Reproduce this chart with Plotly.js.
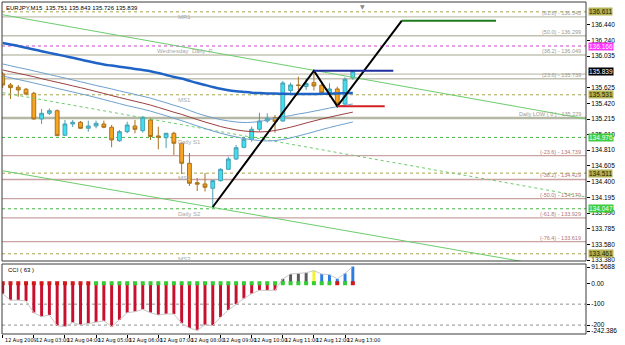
<!DOCTYPE html>
<html><head><meta charset="utf-8">
<script src="https://cdn.plot.ly/plotly-3.0.1.min.js"></script>
<style>html,body{margin:0;padding:0;background:#fff;}#chart{width:625px;height:345px;}</style>
</head><body><div id="chart"></div>
<script>
// ---------- DATA ----------
const symbolTitle = "EURJPY,M15";
const open  = [135.802,135.659,135.629,135.603,135.551,135.216,135.290,135.324,135.004,135.151,135.173,135.095,135.125,135.151,135.108,134.933,135.051,135.125,135.064,135.203,134.995,134.972,135.030,134.900,134.639,134.387,134.370,134.314,134.413,134.561,134.695,134.847,134.952,135.082,135.190,135.233,135.190,135.587,135.659,135.639,135.689,135.655,135.555,135.607,135.411,135.751];
const high  = [135.828,135.685,135.659,135.620,135.568,135.346,135.353,135.340,135.203,135.203,135.190,135.194,135.194,135.194,135.138,135.073,135.181,135.203,135.255,135.225,135.116,135.034,135.051,134.904,134.773,134.448,134.513,134.415,134.574,134.725,134.877,134.986,135.116,135.298,135.290,135.268,135.711,135.689,135.767,135.746,135.845,135.702,135.681,135.637,135.759,135.843];
const low   = [135.620,135.476,135.506,135.528,135.209,135.151,135.268,134.995,134.995,135.112,135.086,135.051,135.095,135.095,134.848,134.920,135.030,135.030,135.038,134.943,134.821,134.838,134.747,134.500,134.344,134.278,134.272,134.070,134.400,134.552,134.682,134.834,134.920,135.051,135.168,135.038,135.181,135.551,135.594,135.594,135.587,135.528,135.499,135.381,135.398,135.726];
const close = [135.659,135.624,135.594,135.541,135.216,135.290,135.324,134.999,135.151,135.173,135.095,135.125,135.160,135.108,134.943,135.051,135.138,135.082,135.238,134.988,134.978,135.030,134.900,134.639,134.379,134.367,134.327,134.413,134.561,134.695,134.842,134.952,135.082,135.190,135.225,135.181,135.685,135.659,135.652,135.678,135.646,135.555,135.607,135.414,135.733,135.839];

const maSlow = [136.206,136.186,136.167,136.143,136.121,136.099,136.077,136.056,136.034,136.012,135.990,135.967,135.945,135.926,135.911,135.897,135.883,135.868,135.854,135.838,135.815,135.789,135.763,135.743,135.713,135.684,135.659,135.633,135.609,135.591,135.578,135.568,135.559,135.553,135.549,135.547,135.544,135.542,135.542,135.542,135.542,135.543,135.546,135.548,135.551,135.555];
const envUpper = [135.932,135.909,135.886,135.866,135.842,135.819,135.795,135.772,135.749,135.724,135.701,135.677,135.652,135.630,135.607,135.582,135.559,135.535,135.512,135.487,135.457,135.427,135.395,135.365,135.327,135.290,135.259,135.232,135.208,135.190,135.177,135.170,135.173,135.183,135.203,135.224,135.244,135.260,135.281,135.297,135.317,135.337,135.358,135.377,135.395,135.411];
const envMid = [135.854,135.831,135.810,135.789,135.766,135.741,135.717,135.694,135.671,135.647,135.624,135.599,135.574,135.548,135.521,135.496,135.471,135.447,135.423,135.397,135.367,135.336,135.304,135.276,135.242,135.208,135.177,135.147,135.118,135.094,135.074,135.060,135.051,135.047,135.052,135.066,135.086,135.109,135.135,135.164,135.190,135.216,135.239,135.262,135.284,135.305];
const envLower = [135.776,135.753,135.730,135.708,135.685,135.661,135.638,135.614,135.591,135.568,135.544,135.521,135.495,135.469,135.442,135.416,135.390,135.367,135.344,135.318,135.288,135.258,135.225,135.194,135.160,135.125,135.092,135.060,135.031,135.005,134.982,134.962,134.946,134.935,134.930,134.935,134.949,134.969,134.995,135.021,135.049,135.078,135.104,135.130,135.153,135.177];

const cci = [-50,-81,-81,-85,-141,-160,-152,-203,-207,-188,-199,-194,-186,-180,-207,-175,-141,-136,-125,-141,-152,-147,-147,-191,-214,-225,-199,-202,-162,-128,-100,-73,-50,-34,-34,-34,21,44,47,50,60,44,41,21,47,80];
const cciBarState = ["d","d","d","d","d","d","d","d","d","d","d","d","d","d","d","d","d","d","d","d","d","d","d","d","d","d","d","d","d","d","d","d","d","d","d","d","n","n","n","n","y","u","u","u","u","u"];
const cciDotState = ["r","r","r","r","r","r","r","r","r","r","r","r","g","g","g","g","g","g","g","g","g","g","g","g","g","g","g","g","g","g","g","g","g","g","g","g","g","g","g","g","g","g","g","r","g","r"];
const cciLevels = [-100,-200];
const cciMax = 91.5688, cciMin = -242.386;
const cciTickText = ["91.5688","0.00","-100","-200","-242.386"];

const timeLabelBars = [0,4,8,12,16,20,24,28,32,36,40,44];
const timeLabels = ["12 Aug 2009","12 Aug 03:00","12 Aug 04:00","12 Aug 05:00","12 Aug 06:00","12 Aug 07:00","12 Aug 08:00","12 Aug 09:00","12 Aug 10:00","12 Aug 11:00","12 Aug 12:00","12 Aug 13:00"];

const priceTicks = [136.440,136.240,136.035,135.625,135.420,135.215,135.010,134.810,134.605,134.400,134.195,133.990,133.785,133.580,133.380];

const fibLevels = [136.545,136.299,136.049,135.739,135.229,134.739,134.429,134.179,133.929,133.619];
const fibNames = ["(61.8)","(50.0)","(38.2)","(23.6)","Daily LOW ( 0 )","(-23.6)","(-38.2)","(-50.0)","(-61.8)","(-76.4)"];
const otherLevels = [135.800];

const pivotLevels = [136.611,136.166,135.531,134.976,134.511,134.047,133.461];
const pivotNames = ["MR1","Wednesday  Daily  P","MS1","Daily S1","MS2","Daily S2","MS3"];
const pivotKinds = ["mid","pivot","mid","daily","mid","daily","mid"];

const trendUpperX = [0,75], trendUpperY = [136.573,135.216];
const trendMidX = [0,75],   trendMidY = [135.558,134.200];
const trendLowX = [0,75],   trendLowY = [134.542,133.215];

const zigzagX = [27,40,43,51.3];
const zigzagY = [134.070,135.845,135.381,136.496];
const highSegX = [40,50.2],  highSegY = [135.845,135.845];
const lowSegX = [43,49.1],   lowSegY = [135.381,135.381];
const targetSegX = [51.3,63.4], targetSegY = [136.496,136.496];
const shiftMarkerBar = 46.3;

// ---------- BUILD ----------
const bars = open.map((_, i) => i);
const FONT = "Liberation Sans, Arial, sans-serif";
const NARROW = "Liberation Sans Narrow, Arial Narrow, DejaVu Sans Condensed, Liberation Sans, sans-serif";
const mainDom = [(334-261)/332, 1];
const cciDom = [0, (334-264)/332];
const cciRange = [-242.6, 91.8];
// MT4 draws the extreme scale labels a few pixels inside the panel edge
const cciSpan = cciRange[1] - cciRange[0];
const cciTicks = [cciRange[1] - cciSpan*3/70, 0, -100, -200, cciRange[0] + cciSpan*3/70];

const pivotColor = {mid:"#a6a64a", pivot:"#cc44cc", daily:"#46b946"};
const pivotBg = {mid:"#b3b356", pivot:"#ff33ff", daily:"#3dcc3d"};
const pivotFg = {mid:"#202000", pivot:"#ffffff", daily:"#ffffff"};
const barColor = {d:"#c8102e", n:"#5a5a5a", y:"#f2f230", u:"#2a7de1"};
const dotColor = {r:"#d01818", g:"#33cc33"};

const traces = [];
function line(x, y, color, width, dash, yaxis, shape) {
  traces.push({type:"scatter", mode:"lines", x:x, y:y, xaxis:"x", yaxis:yaxis||"y",
    line:{color:color, width:width, dash:dash||"solid", shape:shape||"linear"}, hoverinfo:"skip", showlegend:false});
}
line(trendUpperX, trendUpperY, "#6ccc6c", 1);
line(trendMidX, trendMidY, "#6ccc6c", 1, "dot");
line(trendLowX, trendLowY, "#6ccc6c", 1);
line(bars, envUpper, "#6d9fcf", 1, "solid", "y", "spline");
line(bars, envMid, "#9a3f3f", 1, "solid", "y", "spline");
line(bars, envLower, "#6d9fcf", 1, "solid", "y", "spline");
line(bars, maSlow, "#1f63c6", 2.5, "solid", "y", "spline");

traces.push({type:"candlestick", x:bars, open:open, high:high, low:low, close:close,
  xaxis:"x", yaxis:"y",
  increasing:{line:{color:"#4a9fb0", width:1}, fillcolor:"#3fdff2"},
  decreasing:{line:{color:"#a8721e", width:1}, fillcolor:"#f7a420"},
  hoverinfo:"skip", showlegend:false});

line(zigzagX, zigzagY, "#000000", 2);
line(highSegX, highSegY, "#1c2c9c", 2);
line(lowSegX, lowSegY, "#d42020", 2);
line(targetSegX, targetSegY, "#1f7a1f", 2);

// CCI
traces.push({type:"bar", x:bars, y:cci, base:0, width:0.38, xaxis:"x", yaxis:"y2",
  marker:{color:cciBarState.map(s => barColor[s]), line:{width:0}}, hoverinfo:"skip", showlegend:false});
line(bars, cci, "#c8c8c8", 1, "solid", "y2");
traces.push({type:"scatter", mode:"markers", x:bars, y:bars.map(() => 0), xaxis:"x", yaxis:"y2",
  marker:{symbol:"square", size:4, color:cciDotState.map(s => dotColor[s])}, hoverinfo:"skip", showlegend:false});

const shapes = [];
const annotations = [];
const fmt = v => v.toFixed(3);

fibLevels.forEach((v, i) => {
  const neg = fibNames[i].indexOf("-") >= 0;
  const zero = fibNames[i].indexOf("( 0 )") >= 0;
  shapes.push({type:"line", xref:"paper", x0:0, x1:1, yref:"y", y0:v, y1:v, layer:"below",
    line:{color: zero ? "#b4b8a4" : (neg ? "#c9a2a2" : "#c2c2b2"), width: zero ? 2.5 : 1.4}});
  annotations.push({xref:"paper", x:(583-2)/584, xanchor:"right", yref:"y", y:v, yanchor:"bottom", yshift:-1,
    text: fibNames[i] + " - " + fmt(v), showarrow:false,
    font:{family:FONT, size:5.5, color: neg ? "#b07878" : "#9a9a90"}});
});
otherLevels.forEach(v => {
  shapes.push({type:"line", xref:"paper", x0:0, x1:1, yref:"y", y0:v, y1:v, layer:"below",
    line:{color:"#c2c2b2", width:1.2}});
});
pivotLevels.forEach((v, i) => {
  const k = pivotKinds[i];
  shapes.push({type:"line", xref:"paper", x0:0, x1:1, yref:"y", y0:v, y1:v, layer:"below",
    line:{color:pivotColor[k], width:1, dash:"dot"}});
  annotations.push({xref:"x", x: k === "pivot" ? 19.6 : 22.3, xanchor:"left", yref:"y", y:v, yanchor:"top", yshift:0,
    text:pivotNames[i], showarrow:false, font:{family:FONT, size:6, color:"#a8a8a8"}});
  annotations.push({xref:"paper", x:1, xanchor:"left", xshift:2, yref:"y", y:v, yanchor:"middle",
    text:fmt(v), showarrow:false, bgcolor:pivotBg[k], borderpad:0,
    font:{family:FONT, size:6.5, color:pivotFg[k]}});
});
// current price label
annotations.push({xref:"paper", x:1, xanchor:"left", xshift:2, yref:"y", y:close[close.length-1], yanchor:"middle",
  text:fmt(close[close.length-1]), showarrow:false, bgcolor:"#000000", borderpad:0,
  font:{family:FONT, size:6.5, color:"#ffffff"}});

cciLevels.forEach(v => {
  shapes.push({type:"line", xref:"paper", x0:0, x1:1, yref:"y2", y0:v, y1:v, layer:"below",
    line:{color:"#909090", width:1, dash:"dot"}});
});

// panel frames
shapes.push({type:"rect", xref:"paper", yref:"paper", x0:0, x1:1, y0:mainDom[0], y1:mainDom[1], layer:"above",
  line:{color:"#3a3a3a", width:1}});
shapes.push({type:"rect", xref:"paper", yref:"paper", x0:0, x1:1, y0:cciDom[0], y1:cciDom[1], layer:"above",
  line:{color:"#3a3a3a", width:1}});

// title + indicator name
const last = open.length - 1;
annotations.push({xref:"paper", x:0.004, xanchor:"left", yref:"paper", y:1, yanchor:"top", yshift:-1,
  text: symbolTitle + "  " + fmt(open[last]) + " " + fmt(high[last]) + " " + fmt(low[last]) + " " + fmt(close[last]),
  showarrow:false, font:{family:FONT, size:6, color:"#000"}});
annotations.push({xref:"paper", x:0.006, xanchor:"left", yref:"paper", y:cciDom[1], yanchor:"top", yshift:-1,
  text:"CCI ( 63 )", showarrow:false, font:{family:FONT, size:6, color:"#000"}});
annotations.push({xref:"x", x:shiftMarkerBar, xanchor:"center", yref:"paper", y:1, yanchor:"top", yshift:1,
  text:"▼", showarrow:false, font:{family:"DejaVu Sans", size:6, color:"#8a8a8a"}});

// time labels
timeLabelBars.forEach((b, i) => {
  annotations.push({xref:"x", x:b, xanchor:"left", xshift:0, yref:"paper", y:0, yanchor:"top", yshift:-1,
    text:timeLabels[i], showarrow:false, font:{family:NARROW, size:5.5, color:"#000"}});
});

const layout = {
  width:625, height:345,
  margin:{l:2, r:39, t:2, b:11, pad:0},
  paper_bgcolor:"#ffffff", plot_bgcolor:"#ffffff",
  showlegend:false, hovermode:false,
  xaxis:{range:[-0.09, 74.97], anchor:"y2", showgrid:false, zeroline:false, showline:false,
    tickvals:timeLabelBars, ticks:"outside", ticklen:3, tickcolor:"#000", showticklabels:false,
    rangeslider:{visible:false}, fixedrange:true},
  yaxis:{domain:mainDom, range:[133.367, 136.739], side:"right", anchor:"x", showgrid:false, zeroline:false,
    showline:false, tickvals:priceTicks, ticktext:priceTicks.map(fmt), ticks:"outside", ticklen:3,
    tickcolor:"#000", tickfont:{family:FONT, size:6.5, color:"#000"}, fixedrange:true},
  yaxis2:{domain:cciDom, range:cciRange, side:"right", anchor:"x", showgrid:false, zeroline:false,
    showline:false, tickvals:cciTicks, ticktext:cciTickText, ticks:"outside", ticklen:3,
    tickcolor:"#000", tickfont:{family:FONT, size:6.5, color:"#000"}, fixedrange:true},
  shapes:shapes, annotations:annotations
};
Plotly.newPlot("chart", traces, layout, {displayModeBar:false, staticPlot:true});
</script></body></html>
